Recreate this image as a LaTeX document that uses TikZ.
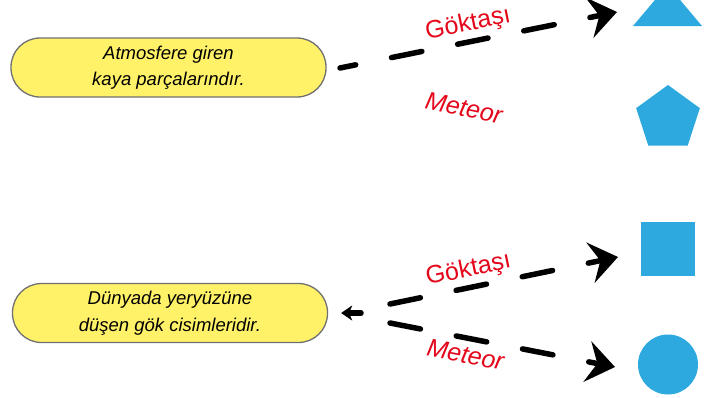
\documentclass[tikz,border=0pt]{standalone}
\usepackage{fontspec}
\setmainfont{Liberation Sans}
\usetikzlibrary{arrows.meta,shapes.geometric}
\definecolor{boxyellow}{RGB}{255,242,104}
\definecolor{boxline}{RGB}{112,112,112}
\definecolor{labelred}{RGB}{228,6,26}
\definecolor{shapeblue}{RGB}{46,169,224}

\begin{document}
\begin{tikzpicture}[x=1pt,y=-1pt]
  \tikzset{box/.style = {shape=rectangle,rounded corners=29pt,draw=boxline,line width=1.3pt,fill=boxyellow,minimum width=315pt,minimum height=59pt,align=center,font=\itshape\fontsize{18.5}{26.5}\selectfont}}
  \tikzset{blueshape/.style = {fill=shapeblue,inner sep=0pt,outer sep=0pt}}
  \tikzset{lbl/.style = {text=labelred,font=\fontsize{25}{25}\selectfont,inner sep=1pt}}
  \tikzset{ilbl/.style = {lbl,font=\itshape\fontsize{25}{25}\selectfont}}
  \tikzset{edge/.style = {line width=5.5pt,line cap=round,dash pattern=on 31pt off 36.5pt,-{Stealth[length=28pt,width=41pt,inset=10pt]}}}

  \useasboundingbox (0,0) rectangle (718,397);

  \node[box] (atmos) at (168.5,67.5) {Atmosfere giren\\kaya parçalarındır.};
  \node[box] (dunya) at (170,313) {Dünyada yeryüzüne\\düşen gök cisimleridir.};

  % shapes on the right
  \fill[shapeblue] (633,26) -- (702,26) -- (667.5,-15) -- cycle;
  \node[blueshape,regular polygon,regular polygon sides=5,minimum size=67pt] (penta) at (668,118.5) {};
  \node[blueshape,rectangle,minimum size=54pt] (kare) at (668,249) {};
  \node[blueshape,circle,minimum size=60pt] (daire) at (668,364.5) {};

  \coordinate (a1) at (340,68);
  \coordinate (g1) at (617,12);
  \coordinate (fork) at (361,313);
  \coordinate (b1) at (390,304);
  \coordinate (g2) at (618,257);
  \coordinate (b2) at (390,323);
  \coordinate (g3) at (615,367);

  \node[ilbl,rotate=-12] (meteor) at (464,108) {Meteor};

  \draw[edge,dash phase=15pt] (a1) -- node[lbl,sloped,above=2pt,pos=0.475] {Göktaşı} (g1);
  \draw[edge] (b1) -- node[lbl,sloped,above=2pt,pos=0.36] {Göktaşı} (g2);
  \draw[edge] (b2) -- node[ilbl,sloped,below=4pt,pos=0.35] {Meteor} (g3);
  \draw[line width=5.5pt,line cap=round,-{Stealth[length=11pt,width=15pt,inset=3pt]},shorten >=13pt] (fork) -- (dunya.east);

\end{tikzpicture}
\end{document}
